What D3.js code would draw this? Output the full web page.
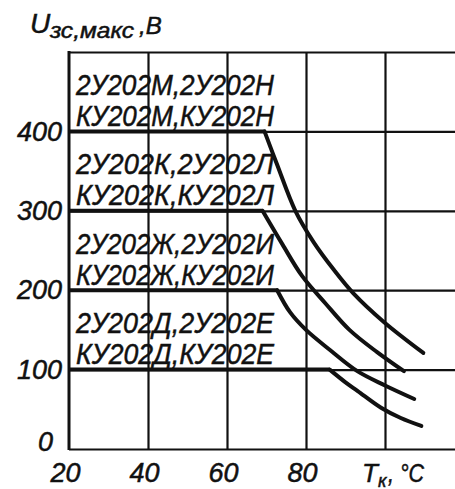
<!DOCTYPE html>
<html>
<head>
<meta charset="utf-8">
<script src="https://cdn.jsdelivr.net/npm/d3@7"></script>
<style>
body { margin: 0; background: #fff; }
svg text { font-family: "Liberation Sans", Arial, sans-serif; font-style: italic; fill: #111; stroke: #111; stroke-width: 0.5px; }
</style>
</head>
<body>
<svg id="chart" width="455" height="489"></svg>
<script>
// ticks: case temperature (deg C) and voltage (V)
var tempTicks = [20, 40, 60, 80, 100];
var tempLabels = [20, 40, 60, 80];
var voltTicks = [0, 100, 200, 300, 400];
var voltGrid = [0, 100, 200, 300, 400, 500];

// flat level of each family, then the falling part as [T, U] from the knee
var levels = [400, 300, 200, 100];
var fall400 = [[69.5,400],[72.7,358],[77.3,300],[82,260],[87,226],[92,196],[99.7,160],[109.7,121]];
var fall300 = [[69,300],[74,258],[79,218],[85,183],[91,150],[98,122],[104.8,98]];
var fall200 = [[72.7,200],[76,172],[80,150],[86,125],[93,98],[100,80],[107.4,63]];
var fall100 = [[86,100],[90,84],[93.1,73],[99,52],[104,39],[109.2,29]];
var falls = [fall400, fall300, fall200, fall100];

// device names written inside each band
var bandNames = [
    ["2У202М,2У202Н", "КУ202М,КУ202Н"],
    ["2У202К,2У202Л", "КУ202К,КУ202Л"],
    ["2У202Ж,2У202И", "КУ202Ж,КУ202И"],
    ["2У202Д,2У202Е", "КУ202Д,КУ202Е"]
];

var svg = d3.select("#chart");
var chartW = 455;

var x = d3.scaleLinear().domain([20, 100]).range([69, 385]);
var y = d3.scaleLinear().domain([0, 500]).range([449, 52]);

var ink = "#111";

// grid through the axis generators: horizontal lines run off the right edge
var gy = svg.append("g").attr("transform", "translate(" + x(20) + ",0)")
    .call(d3.axisLeft(y).tickValues(voltGrid).tickFormat("")
        .tickSize(-(chartW - x(20))));
gy.select(".domain").remove();
gy.selectAll(".tick line").attr("stroke", ink).attr("stroke-width", 2.2);

var gx = svg.append("g").attr("transform", "translate(0," + y(0) + ")")
    .call(d3.axisBottom(x).tickValues(tempTicks.slice(1)).tickFormat("")
        .tickSize(-(y(0) - y(500))));
gx.select(".domain").remove();
gx.selectAll(".tick line").attr("stroke", ink).attr("stroke-width", 2.2);

// left axis
svg.append("line")
    .attr("x1", x(20)).attr("x2", x(20))
    .attr("y1", y(500) - 1).attr("y2", y(0) + 1)
    .attr("stroke", ink).attr("stroke-width", 3);

// curves: flat part then the derating fall
var fallLine = d3.line()
    .x(function(d){ return x(d[0]); })
    .y(function(d){ return y(d[1]); })
    .curve(d3.curveCatmullRom.alpha(0.5));

levels.forEach(function(lv, i){
    var knee = falls[i][0];
    svg.append("line")
        .attr("x1", x(20)).attr("x2", x(knee[0]))
        .attr("y1", y(lv)).attr("y2", y(lv))
        .attr("stroke", ink).attr("stroke-width", 4);
    svg.append("path")
        .attr("d", fallLine(falls[i]))
        .attr("fill", "none").attr("stroke", ink)
        .attr("stroke-width", 4).attr("stroke-linecap", "round");
});

// band names
bandNames.forEach(function(pair, i){
    var mid = (y(levels[i]) + y(levels[i] + 100)) / 2;
    pair.forEach(function(s, j){
        svg.append("text")
            .attr("x", x(20) + 7)
            .attr("y", mid + 3 + j * 31)
            .attr("font-size", 29)
            .attr("textLength", 198)
            .attr("lengthAdjust", "spacingAndGlyphs")
            .text(s);
    });
});

// axes (labels only)
var ax = svg.append("g").attr("transform", "translate(" + x(20) + ",0)")
    .call(d3.axisLeft(y).tickValues(voltTicks).tickSize(0).tickPadding(7));
ax.select(".domain").remove();
ax.selectAll("text").attr("font-size", 27).attr("fill", ink)
    .attr("dx", function(d){ return d === 0 ? -9 : 0; })
    .attr("dy", function(d){ return d === 0 ? "0.05em" : "0.32em"; })
    .style("font-family", "Liberation Sans").style("font-style", "italic");

var bx = svg.append("g").attr("transform", "translate(0," + y(0) + ")")
    .call(d3.axisBottom(x).tickValues(tempLabels).tickSize(0).tickPadding(14));
bx.select(".domain").remove();
bx.selectAll("text").attr("font-size", 27).attr("fill", ink).attr("dx", -4)
    .style("font-family", "Liberation Sans").style("font-style", "italic");

// axis titles
svg.append("text").attr("x", 30).attr("y", 33).attr("font-size", 28).text("U");
svg.append("text").attr("x", 50).attr("y", 38).attr("font-size", 22)
    .attr("textLength", 84).attr("lengthAdjust", "spacingAndGlyphs").text("зс,макс");
svg.append("text").attr("x", 139).attr("y", 34).attr("font-size", 24).text(",В");

// T with subscript k, then the unit
svg.append("text").attr("x", 362).attr("y", 482).attr("font-size", 26)
    .text("T")
    .append("tspan").attr("font-size", 18).attr("dy", 5).text("к");
svg.append("text").attr("x", 388).attr("y", 482).attr("font-size", 26)
    .attr("textLength", 36).attr("lengthAdjust", "spacingAndGlyphs").text(", °C");
</script>
</body>
</html>
